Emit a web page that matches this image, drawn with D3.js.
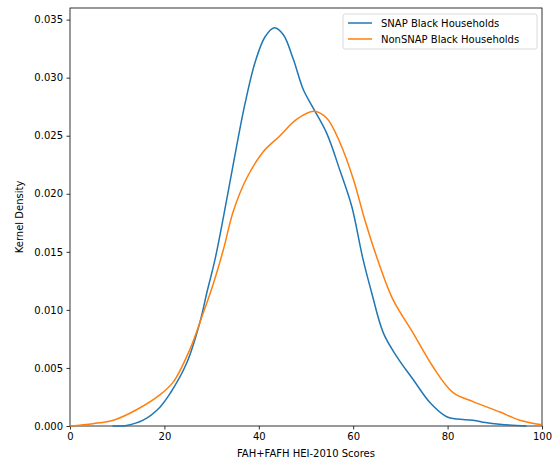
<!DOCTYPE html>
<html>
<head>
<meta charset="utf-8">
<script src="https://cdn.jsdelivr.net/npm/d3@7"></script>
<style>
  body { margin: 0; background: #fff; }
  svg { font-family: "DejaVu Sans", sans-serif; }
</style>
</head>
<body>
<svg width="552" height="465"></svg>
<script>
// Values
var snapX = [9, 12, 15.5, 19, 21.2, 24.7, 27.5, 29, 30.7, 33.2, 35.3, 37.1, 39.2, 41.3, 43.3, 45.2, 47.3, 49.4, 51.5, 54.4, 57.2, 59.7, 62, 63.9, 66.4, 69.2, 72.7, 76.3, 79.8, 82, 85.4, 88, 91, 96.7];
var snapY = [0, 0.00005, 0.0005, 0.0016, 0.0028, 0.0054, 0.0089, 0.0115, 0.0143, 0.0195, 0.0241, 0.0278, 0.0313, 0.0335, 0.0343, 0.0337, 0.0316, 0.0290, 0.0274, 0.0252, 0.0220, 0.0189, 0.0145, 0.0115, 0.0080, 0.0060, 0.0040, 0.0020, 0.0008, 0.0006, 0.0005, 0.0003, 0.00015, 0];
var nonX = [0, 4.9, 9.2, 14.1, 19.1, 21.9, 25.4, 28.2, 30.4, 32.5, 34.6, 37.5, 40.9, 44.5, 48, 51.7, 54.4, 57.2, 60, 62.5, 65.2, 68.4, 72.7, 76.9, 81.1, 85.4, 91.1, 95.3, 100];
var nonY = [0, 0.0002, 0.0005, 0.0014, 0.0027, 0.0038, 0.0066, 0.0097, 0.0123, 0.0152, 0.0185, 0.0214, 0.0236, 0.0250, 0.0264, 0.0271, 0.0265, 0.0244, 0.0213, 0.0177, 0.0143, 0.0109, 0.008, 0.0051, 0.0029, 0.0021, 0.0012, 0.0005, 0.0001];
var seriesNames = ["SNAP Black Households", "NonSNAP Black Households"];
var xTicks = [0, 20, 40, 60, 80, 100];
var yTicks = [0, 0.005, 0.010, 0.015, 0.020, 0.025, 0.030, 0.035];

var plotLeft = 70, plotTop = 8, plotRight = 542, plotBottom = 426;
var svg = d3.select("svg");

var xscale = d3.scaleLinear().domain([0, 100]).range([plotLeft, plotRight]);
var yscale = d3.scaleLinear().domain([0, 0.036]).range([plotBottom, plotTop]);
var colors = ["#1f77b4", "#ff7f0e"];

// axes
var xAxis = svg.append("g")
    .attr("transform", "translate(0," + plotBottom + ")")
    .call(d3.axisBottom(xscale).tickValues(xTicks).tickFormat(d3.format("d")).tickSize(3.5).tickPadding(3.5));
var yAxis = svg.append("g")
    .attr("transform", "translate(" + plotLeft + ",0)")
    .call(d3.axisLeft(yscale).tickValues(yTicks).tickFormat(d3.format(".3f")).tickSize(3.5).tickPadding(3.5));
[xAxis, yAxis].forEach(function(a) {
    a.selectAll("text").attr("font-size", 10).attr("fill", "#000").attr("font-family", "DejaVu Sans, sans-serif");
    a.selectAll("line").attr("stroke", "#000").attr("stroke-width", 0.8);
    a.select(".domain").remove();
});

// frame
svg.append("rect")
    .attr("x", plotLeft).attr("y", plotTop)
    .attr("width", plotRight - plotLeft).attr("height", plotBottom - plotTop)
    .attr("fill", "none").attr("stroke", "#000").attr("stroke-width", 0.8);

// curves
var line = d3.line()
    .x(function(d) { return xscale(d[0]); })
    .y(function(d) { return yscale(Math.max(0, d[1])); })
    .curve(d3.curveCatmullRom.alpha(0.5));

var series = [d3.zip(snapX, snapY), d3.zip(nonX, nonY)];
series.forEach(function(s, i) {
    svg.append("path")
        .datum(s)
        .attr("d", line)
        .attr("fill", "none")
        .attr("stroke", colors[i])
        .attr("stroke-width", 1.5);
});

// legend
var lg = svg.append("g");
lg.append("rect")
    .attr("x", 343).attr("y", 14).attr("width", 194).attr("height", 35)
    .attr("rx", 2).attr("fill", "#fff").attr("fill-opacity", 0.8)
    .attr("stroke", "#d0d0d0").attr("stroke-width", 0.8);
seriesNames.forEach(function(name, i) {
    var yy = 23 + i * 16;
    lg.append("line")
        .attr("x1", 348).attr("x2", 372).attr("y1", yy).attr("y2", yy)
        .attr("stroke", colors[i]).attr("stroke-width", 1.5);
    lg.append("text")
        .attr("x", 381).attr("y", yy).attr("dy", "0.35em")
        .attr("font-size", 10).text(name);
});

// axis labels
svg.append("text")
    .attr("x", (plotLeft + plotRight) / 2).attr("y", 457)
    .attr("text-anchor", "middle").attr("font-size", 10)
    .text("FAH+FAFH HEI-2010 Scores");
svg.append("text")
    .attr("transform", "translate(23," + ((plotTop + plotBottom) / 2) + ") rotate(-90)")
    .attr("text-anchor", "middle").attr("font-size", 10)
    .text("Kernel Density");
</script>
</body>
</html>
